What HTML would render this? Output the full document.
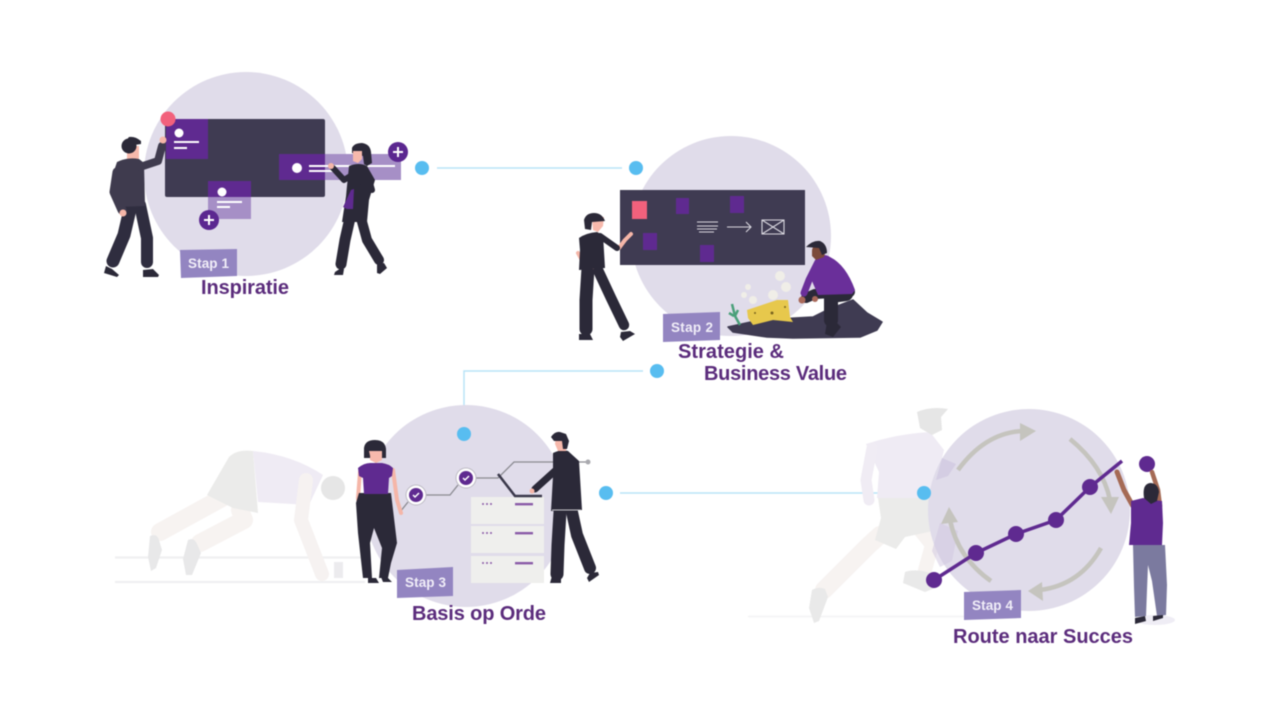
<!DOCTYPE html>
<html lang="nl">
<head>
<meta charset="utf-8">
<title>Stappen</title>
<style>
html,body{margin:0;padding:0;background:#fff;width:1280px;height:720px;overflow:hidden}
svg{display:block;filter:blur(.6px)}
text{font-family:"Liberation Sans",Arial,sans-serif;font-weight:700}
.lab{fill:#5b2c7c;font-size:20px}
.st{fill:#f1eef8;font-size:13.500px}
.limb{fill:none;stroke-linecap:round;stroke-linejoin:round}
</style>
</head>
<body>
<svg width="1280" height="720" viewBox="0 0 1280 720" xmlns="http://www.w3.org/2000/svg">
<rect width="1280" height="720" fill="#fff"/>

<!-- connectors -->
<g stroke="#b9e4f8" stroke-width="1.500" fill="none">
<path d="M437 168H622"/>
<path d="M643 371H464V420"/>
<path d="M620 493H905"/>
</g>

<!-- PANEL 1 -->
<circle cx="246" cy="174" r="102" fill="#e0dcea"/>
<rect x="165" y="119" width="160" height="78" rx="2" fill="#3f3b52"/>
<rect x="166" y="119" width="42" height="40" fill="#5f2a90"/>
<circle cx="168" cy="119" r="7.500" fill="#f2617c"/>
<circle cx="179" cy="133" r="4.500" fill="#fff"/>
<path d="M174 142H199M174 148H187" stroke="#fff" stroke-width="2"/>
<rect x="325" y="154" width="76" height="26" fill="#a68fc6"/>
<rect x="279" y="154" width="46" height="26" fill="#5f2a90"/>
<circle cx="297" cy="168" r="5" fill="#fff"/>
<path d="M309 166H395M309 171H333" stroke="#fff" stroke-width="2"/>
<rect x="208" y="197" width="43" height="22" fill="#a68fc6"/>
<rect x="208" y="181" width="43" height="16" fill="#5f2a90"/>
<circle cx="222" cy="192" r="4.500" fill="#fff"/>
<path d="M217 202H242M217 207H230" stroke="#fff" stroke-width="2"/>
<g fill="#5b2790"><circle cx="398" cy="152" r="10"/><circle cx="209" cy="220" r="10"/></g>
<path d="M393 152H403M398 147V157M204 220H214M209 215V225" stroke="#fff" stroke-width="2"/>
<!-- man 1 -->
<path class="limb" d="M131 205L124 235 113 261" stroke="#2f2d3f" stroke-width="13"/>
<path class="limb" d="M140 205L147 238 147 262" stroke="#2f2d3f" stroke-width="12"/>
<path d="M106 266l6 3 7 6-2 2-13-4ZM143 270l10-1 6 6-1 2h-15Z" fill="#2b2938"/>
<path d="M127 146h12v12l-3 5h-9Z" fill="#f7b9ac"/>
<circle cx="129" cy="146" r="7.500" fill="#2b2938"/>
<path d="M141 141q-6-5-12-4l-5 6 4 3 13-2Z" fill="#2b2938"/>
<path class="limb" d="M117 172L114 192 122 210" stroke="#3f3b4e" stroke-width="9"/>
<path d="M117 162q10-5 22-3l5 4 1 43-29 1-4-30Z" fill="#3f3b4e"/>
<path class="limb" d="M140 167L158 161 162 146" stroke="#3f3b4e" stroke-width="8"/>
<circle cx="163" cy="140" r="3.500" fill="#f5b6a8"/>
<circle cx="123" cy="213" r="3.500" fill="#f5b6a8"/>
<!-- woman 1 -->
<path class="limb" d="M350 218L345 240 341 264" stroke="#2b2938" stroke-width="11"/>
<path class="limb" d="M361 218L367 240 379 260" stroke="#2b2938" stroke-width="10"/>
<path d="M335 272l6-4 3 1-1 6h-9ZM377 264l7-1 3 5-7 6-3-1Z" fill="#2b2938"/>
<path d="M349 166q10-4 18 0l8 14 -6 20 -2 22h-25l4-26Z" fill="#2b2938"/>
<path class="limb" d="M352 175L344 180 333 168" stroke="#2b2938" stroke-width="6"/>
<path class="limb" d="M368 176L372 190 358 187" stroke="#2b2938" stroke-width="6"/>
<path d="M351 190l-8 17 4 2 6 0 1-20Z" fill="#5f2a90"/>
<circle cx="331" cy="166" r="3" fill="#f5b6a8"/>
<path d="M352 148q2-5 10-5 8 1 9 9l1 11-5 3-3-2-1-8-11-3Z" fill="#2b2938"/>
<path d="M353 151h9v8l-4 4-5-2Z" fill="#f7b9ac"/>
<path d="M180 250l57-1 0 27-56 2Z" fill="#9385c1"/>
<text x="188" y="268" class="st" textLength="41">Stap 1</text>
<text x="201" y="294" class="lab" textLength="88">Inspiratie</text>

<!-- PANEL 2 -->
<circle cx="731" cy="236" r="100" fill="#e0dcea"/>
<rect x="620" y="190" width="185" height="75" fill="#3f3b52"/>
<rect x="632" y="201" width="15" height="18" fill="#f2617c"/>
<g fill="#5f2a90">
<rect x="676" y="198" width="13" height="16"/><rect x="730" y="196" width="14" height="17"/>
<rect x="643" y="233" width="14" height="17"/><rect x="700" y="245" width="14" height="17"/>
</g>
<g stroke="#d9d7df" stroke-width="1.100" fill="none">
<path d="M697 222H718M697 226H718M697 229H717M699 232H714"/>
<path d="M727 227H751M746 222L751 227 746 232"/>
<path d="M762 220H784V234H762ZM762 220L784 234M784 220L762 234"/>
</g>
<!-- woman 2 -->
<path class="limb" d="M588 268L586 300 586 329" stroke="#2b2938" stroke-width="13"/>
<path class="limb" d="M597 268L611 298 624 325" stroke="#2b2938" stroke-width="10.500"/>
<path d="M579 334h11l3 6h-14ZM621 332l9-1 5 3-12 7-3-4Z" fill="#2b2938"/>
<path class="limb" d="M619 248L625 240 631 234" stroke="#f5b6a8" stroke-width="4"/>
<path class="limb" d="M578 253L583 262 593 267" stroke="#f5b6a8" stroke-width="4"/>
<path d="M579 238q7-5 18-6l6 3 2 33-26 2 1-20Z" fill="#2b2938"/>
<path class="limb" d="M600 236L617 248" stroke="#2b2938" stroke-width="6"/>
<path d="M592 217h12l-1 9-5 6-5-2Z" fill="#f7b9ac"/>
<path d="M585 229l-1-9q2-7 10-7 8 0 11 8l-13 1-1 8Z" fill="#2b2938"/>
<!-- mound -->
<path d="M728 327L760 320 813 317 827 310 853 300 867 313 882 322 877 330 860 337 793 338 767 337 733 332Z" fill="#3f3b52" stroke="#3f3b52" stroke-width="1.500" stroke-linejoin="round"/>
<!-- chest -->
<path d="M747 310l30-10 11 0 2 17 3 5-20-2-20 5-5-7Z" fill="#e7c84c"/>
<circle cx="772" cy="313" r="1.500" fill="#7a6520"/>
<circle cx="755" cy="313" r="1" fill="#7a6520"/><circle cx="785" cy="307" r="1" fill="#7a6520"/>
<!-- bubbles -->
<g fill="#f0eee8"><circle cx="780" cy="276" r="5"/><circle cx="786" cy="287" r="5"/><circle cx="773" cy="295" r="5"/><circle cx="748" cy="287" r="3"/><circle cx="744" cy="295" r="3"/><circle cx="753" cy="300" r="4"/></g>
<path d="M732 304l3 12 5 9M729 313l5 3M738 310l-3 6" stroke="#4aa07a" stroke-width="2.500" fill="none"/>
<!-- man 2 -->
<path class="limb" d="M850 292L815 294 806 298" stroke="#2b2938" stroke-width="10"/>
<path class="limb" d="M846 294L831 296 831 320" stroke="#2b2938" stroke-width="14"/>
<path d="M827 322h9l5 5-8 10-8-3Z" fill="#2b2938"/>
<path d="M816 257q8-4 14 0 16 8 25 33l-3 4-34 1-6-14Z" fill="#6a2f9a"/>
<path class="limb" d="M818 262L809 280 804 293" stroke="#6a2f9a" stroke-width="7"/>
<circle cx="802" cy="300" r="3.500" fill="#a9695a"/>
<circle cx="815" cy="299" r="3" fill="#a9695a"/>
<path d="M812 251a7 7 0 0 1 8-7l6 6-2 7-8 3-4-4Z" fill="#7b4a3a"/>
<path d="M806 247q7-7 14-6 7 3 7 12l-5 2-3-7Z" fill="#2b2938"/>
<path d="M663 314l57-2 0 28-57 2Z" fill="#9385c1"/>
<text x="671" y="332" class="st" textLength="42">Stap 2</text>
<text x="678" y="358" class="lab" textLength="106">Strategie &amp;</text>
<text x="704" y="380" class="lab" textLength="143">Business Value</text>

<!-- dots -->
<g fill="#58bdf0">
<circle cx="422" cy="168" r="7"/><circle cx="636" cy="168" r="7"/>
<circle cx="657" cy="371" r="7"/>
<circle cx="606" cy="493" r="7"/>
</g>

<!-- PANEL 3 ghost runner -->
<path d="M115 557.500H365M115 582H365" stroke="#f0f0f1" stroke-width="2.200"/>
<rect x="334" y="562" width="9" height="16" fill="#ecebee"/>
<path class="limb" d="M222 498L160 532" stroke="#f7f3f1" stroke-width="18"/>
<path class="limb" d="M240 510L244 520 200 543" stroke="#f7f3f1" stroke-width="18"/>
<path d="M150 536q7-3 9 4l3 10-6 18-5 3-3-14ZM188 540q6-3 9 4l4 9-9 22-6 0-3-16Z" fill="#e8e8e9"/>
<path d="M253 451q-16-2-24 6l-22 38 26 13 25 5Z" fill="#ebebea"/>
<path d="M253 451q40 4 70 24l-14 30-51 -3Z" fill="#efebf4"/>
<path class="limb" d="M306 480L301 520 322 574" stroke="#f6f2f1" stroke-width="14"/>
<circle cx="333" cy="488" r="12" fill="#e6e6e6"/>

<!-- PANEL 3 -->
<circle cx="466" cy="506" r="101" fill="#e0dcea"/>
<circle cx="464" cy="434" r="7" fill="#58bdf0"/>
<g fill="#efefed">
<rect x="471" y="497" width="73" height="27"/><rect x="471" y="526" width="73" height="27"/><rect x="471" y="556" width="73" height="27"/>
</g>
<g fill="#8a5ca8">
<rect x="515" y="503" width="18" height="2.400"/><rect x="515" y="532" width="18" height="2.400"/><rect x="515" y="562" width="18" height="2.400"/>
<circle cx="483" cy="504" r="1"/><circle cx="487" cy="504" r="1"/><circle cx="491" cy="504" r="1"/>
<circle cx="483" cy="533" r="1"/><circle cx="487" cy="533" r="1"/><circle cx="491" cy="533" r="1"/>
<circle cx="483" cy="563" r="1"/><circle cx="487" cy="563" r="1"/><circle cx="491" cy="563" r="1"/>
</g>
<path d="M400 512l8-10M425 495H450L458 485M476 478H498L514 462H588" stroke="#8a8a90" stroke-width="1.300" fill="none"/>
<circle cx="588" cy="462" r="2.500" fill="#a9a9ae"/>
<path d="M498 474L515 496H542" stroke="#3a384a" stroke-width="2.500" fill="none"/>
<g fill="#fff" stroke="#bdbac4" stroke-width="1"><circle cx="416" cy="495" r="10"/><circle cx="466" cy="478" r="10"/></g>
<g fill="#5f2a90"><circle cx="416" cy="495" r="7"/><circle cx="466" cy="478" r="7"/></g>
<path d="M413 495l2 2 4-4M463 478l2 2 4-4" stroke="#fff" stroke-width="1.500" fill="none"/>
<!-- woman 3 -->
<path class="limb" d="M393 470L397 500 401 513" stroke="#f5b6a8" stroke-width="4"/>
<path class="limb" d="M360 472L358 498 360 512" stroke="#f5b6a8" stroke-width="4"/>
<path d="M359 493h32l6 50-6 20-3 15h-9l3-30-8-20-4 15 2 35h-9l-5-45-2-30Z" fill="#2b2938"/>
<path d="M368 578h8l3 5h-11ZM381 577h6l5 5h-9Z" fill="#2b2938"/>
<path d="M358 468q6-5 12-5h12q7 1 11 5l-1 8-3 2-1 16h-24l-1-16-4-2Z" fill="#5f2a90"/>
<path d="M370 450h12v10l-6 3-6-3Z" fill="#f7b9ac"/>
<path d="M364 458l0-10q1-8 11-8 10 0 11 9l0 9h-4l-1-7-10 0-1 7Z" fill="#2b2938"/>
<path d="M369 451h13v6l-5 4-6-1Z" fill="#f7b9ac"/>
<!-- man 3 -->
<path class="limb" d="M560 512L558 545 557 574" stroke="#2b2938" stroke-width="13"/>
<path class="limb" d="M572 512L577 535 590 568" stroke="#2b2938" stroke-width="12"/>
<path d="M552 576h9v7h-11ZM590 573l8 -1 1 3-10 7-2-4Z" fill="#2b2938"/>
<path d="M553 453q8-4 15-2l11 10 3 49-31 1 2-35Z" fill="#2b2938"/>
<path class="limb" d="M556 470L535 489" stroke="#2b2938" stroke-width="7"/>
<path d="M552 510h29" stroke="#c9c8cd" stroke-width="1"/>
<path d="M556 436h10v15h-8l-3-7Z" fill="#f7b9ac"/>
<path d="M551 437q4-6 9-5l6 2 3 7-2 8-4 0-1-8-8 0Z" fill="#2b2938"/>
<circle cx="532" cy="491" r="2.500" fill="#f5b6a8"/>
<path d="M397 570l56-3 0 29-56 2Z" fill="#9385c1"/>
<text x="405" y="587" class="st" textLength="41">Stap 3</text>
<text x="412" y="620" class="lab" textLength="134">Basis op Orde</text>

<!-- PANEL 4 ghost runner -->
<path d="M748 616.500H966" stroke="#f3f3f4" stroke-width="1.400"/>
<path class="limb" d="M880 535L868 546 824 590" stroke="#f7f3f1" stroke-width="18"/>
<path class="limb" d="M920 530L932 545 925 570" stroke="#f7f3f1" stroke-width="14"/>
<path d="M812 590q7-4 13-1l3 8-9 24-5 2-5-15ZM905 572q12-4 28 2l2 14-10 4-22-9Z" fill="#e9e9e9"/>
<path d="M878 498h50l12 28-7 5-28 6-9 12-21-9 6-22Z" fill="#ebebea"/>
<path d="M866 444q30-10 64-12l14 18-5 20-12 28-50 0 2-26Z" fill="#efebf4"/>
<path class="limb" d="M872 448L866 480 869 500" stroke="#f0ecf4" stroke-width="11"/>
<path d="M917 412q14-6 31-3l-7 8 1 13-10 5-12-7Z" fill="#e6e6e6"/>

<!-- PANEL 4 -->
<circle cx="1029" cy="510" r="101" fill="#e0dcea"/>
<path d="M942 458l14 6-8 12-12 4Z" fill="#cfc6df" opacity=".7"/>
<path d="M940 523l18 8-6 30-12 6-8-16Z" fill="#cfc6df" opacity=".5"/>
<g stroke="#c5c4be" stroke-width="4.500" fill="none">
<path d="M958 470Q985 433 1022 431"/>
<path d="M1070 439Q1103 466 1110 500"/>
<path d="M1101 548Q1080 585 1040 590"/>
<path d="M991 581Q958 558 950 520"/>
</g>
<g fill="#c5c4be">
<path d="M1020 423l16 8-16 10Z"/>
<path d="M1101 497l18 0-8 17Z"/>
<path d="M1042 582l-14 9 15 10Z"/>
<path d="M941 524l8-17 9 15Z"/>
</g>
<circle cx="924" cy="493" r="7" fill="#58bdf0"/>
<path d="M934 580L976 553 1016 534 1056 520 1090 487 1122 461" stroke="#5f2a90" stroke-width="3.500" fill="none"/>
<g fill="#5f2a90">
<circle cx="934" cy="580" r="8"/><circle cx="976" cy="553" r="8"/><circle cx="1016" cy="534" r="8"/>
<circle cx="1056" cy="520" r="8"/><circle cx="1090" cy="487" r="8"/><circle cx="1147" cy="464" r="8"/>
</g>
<ellipse cx="1155" cy="620" rx="20" ry="5" fill="#efedf5"/>
<!-- man 4 -->
<path class="limb" d="M1117 472L1124 490 1134 508" stroke="#a56a55" stroke-width="5"/>
<path class="limb" d="M1152 472L1158 490 1160 506" stroke="#a56a55" stroke-width="4.500"/>
<path d="M1133 545h32l2 40-1 30-9 1-5-35-4-16-1 25-1 26-11 1-1-30Z" fill="#7b7a9f"/>
<path d="M1135 618l10-2 1 5-11 3ZM1153 616l10-1 0 3-10 3Z" fill="#2b2938"/>
<path d="M1131 501l12-3 10 2 9 1 1 22-1 22h-33l2-22Z" fill="#5f2a90"/>
<path d="M1144 498q-2-14 6-15 8 0 9 9l-2 9-6 3Z" fill="#2b2938"/>
<path d="M964 592l57-2 0 28-57 2Z" fill="#9385c1"/>
<text x="972" y="610" class="st" textLength="41">Stap 4</text>
<text x="953" y="643" class="lab" textLength="180">Route naar Succes</text>
</svg>
</body>
</html>
